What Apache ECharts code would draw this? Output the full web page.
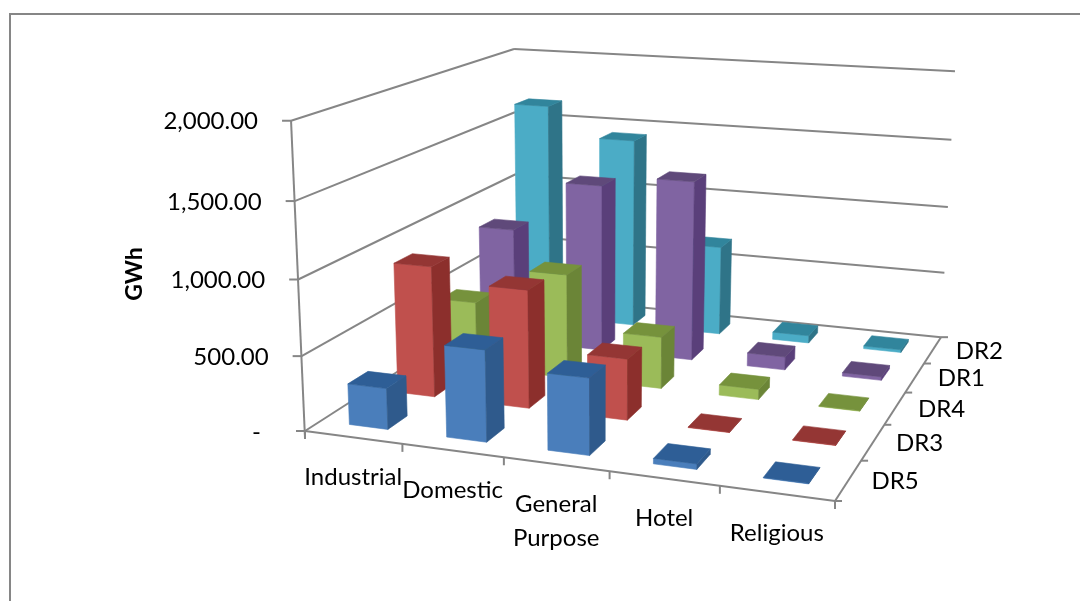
<!DOCTYPE html>
<html>
<head>
<meta charset="utf-8">
<style>html,body{margin:0;padding:0;background:#fff}#chart{width:1080px;height:601px}</style>
<script src="https://cdn.jsdelivr.net/npm/echarts@6/dist/echarts.min.js"></script>
</head>
<body>
<div id="chart"></div>
<script>
// GWh by customer category and DR scheme, front row first
const categories = ['Industrial', 'Domestic', 'General\nPurpose', 'Hotel', 'Religious'];
const rows = ['DR5', 'DR3', 'DR4', 'DR1', 'DR2'];
const valueTicks = [0, 500, 1000, 1500, 2000];
const valueLabels = ['-', '500.00', '1,000.00', '1,500.00', '2,000.00'];
const DR5 = [275, 605, 500, 35, 4];
const DR3 = [905, 810, 415, 3, 3];
const DR4 = [475, 740, 365, 72, 4];
const DR1 = [845, 1225, 1305, 95, 25];
const DR2 = [1650, 1430, 670, 55, 20];
const rowValues = [DR5, DR3, DR4, DR1, DR2];

// front, side and top shades per row
const shades = [
  ['#4A7EBB', '#2F5A8C', '#2E5E96'],
  ['#C0504D', '#8C2F2C', '#943634'],
  ['#9BBB59', '#6B8537', '#76923C'],
  ['#8064A2', '#5A3F7A', '#5F497A'],
  ['#4BACC6', '#2F7488', '#31859C']
];

const GRID = { left: 0, top: 0, width: 1000, height: 500 };
const LINE = '#868686';
const FONT = 'Lato';

// Perspective camera: floor corners with homogeneous weights, and the
// vanishing point of the vertical direction.
const floorA = [305, 431], floorB = [835, 501], floorD = [517, 295];
const wA = 1.11, wB = 1, wD = 1.415;
const vanish = [596, 6900], zScale = -0.0508;

function project(u, v, z) {
  const h = i => {
    const a = i < 2 ? floorA[i] : 1, b = i < 2 ? floorB[i] : 1, d = i < 2 ? floorD[i] : 1;
    const zc = i < 2 ? vanish[i] : 1;
    return wA * a + u * (wB * b - wA * a) + v * (wD * d - wA * a) + z * zScale * zc;
  };
  const w = h(2);
  return [h(0) / w, h(1) / w];
}

function poly(points, fill, stroke, width) {
  return {
    type: 'polygon',
    shape: { points },
    style: { fill, stroke: stroke || fill, lineWidth: width === undefined ? 0.6 : width }
  };
}
function line(p, q) {
  return {
    type: 'line',
    shape: { x1: p[0], y1: p[1], x2: q[0], y2: q[1] },
    style: { stroke: LINE, lineWidth: 2 }
  };
}
function label(text, x, y, align, extra) {
  return {
    type: 'text',
    x, y,
    style: Object.assign({
      text, x: 0, y: 0, align, verticalAlign: 'middle',
      fill: '#000', font: '24px ' + FONT
    }, extra || {})
  };
}

function drawBar(rowIdx) {
  return function (params, api) {
    const cat = api.value(0), val = api.value(1);
    const base = api.coord([cat, 0]);
    const top = api.coord([cat, val]);
    const full = api.coord([cat, 2000]);
    const u0 = (base[0] - GRID.left) / GRID.width;
    const z = (base[1] - top[1]) / (base[1] - full[1]);
    const du = 0.2 / categories.length, dv = 0.2 / rows.length;
    const v0 = (rowIdx + 0.5) / rows.length;
    const [f, s, t] = shades[rowIdx];
    const P = (a, b, c) => project(u0 + a * du, v0 + b * dv, c);
    return {
      type: 'group',
      children: [
        poly([P(-1, -1, 0), P(1, -1, 0), P(1, -1, z), P(-1, -1, z)], f),
        poly([P(1, -1, 0), P(1, 1, 0), P(1, 1, z), P(1, -1, z)], s),
        poly([P(-1, -1, z), P(1, -1, z), P(1, 1, z), P(-1, 1, z)], t)
      ]
    };
  };
}

function drawFrame() {
  const items = [];
  valueTicks.forEach((tick, i) => {
    const z = tick / 2000;
    const a = project(0, 0, z), d = project(0, 1, z), c = project(1, 1, z);
    items.push(line(a, d), line(d, c), line(a, [a[0] - 9, a[1]]));
    const off = tick === 0 ? 44 : 33;
    items.push(label(valueLabels[i], a[0] - off, a[1] + 1, 'right'));
  });
  const A = project(0, 0, 0), B = project(1, 0, 0), C = project(1, 1, 0);
  items.push(line(project(0, 0, 1), [A[0], A[1] + 7]));
  items.push(line(A, B), line(B, C));
  for (let i = 0; i <= categories.length; i++) {
    const p = project(i / categories.length, 0, 0);
    items.push(line(p, [p[0], p[1] + 8]));
  }
  for (let i = 0; i <= rows.length; i++) {
    const p = project(1, i / rows.length, 0);
    items.push(line(p, [p[0] + 7, p[1]]));
  }
  categories.forEach((name, i) => {
    const p = project((i + 0.5) / categories.length, 0, 0);
    items.push(label(name, p[0], p[1] + 23, 'center', { verticalAlign: 'top', lineHeight: 34 }));
  });
  rows.forEach((name, i) => {
    const p = project(1, (i + 0.5) / rows.length, 0);
    items.push(label(name, p[0] + 23, p[1] + 1, 'left'));
  });
  return { type: 'group', children: items };
}

const series = [{
  type: 'custom', name: 'frame', z: 1, silent: true,
  data: [[0, 0]], renderItem: drawFrame
}];
// painted back row first so nearer bars cover farther ones
for (let r = rows.length - 1; r >= 0; r--) {
  series.push({
    type: 'custom', name: rows[r], z: 2 + rows.length - r, silent: true,
    data: rowValues[r].map((v, i) => [i, v]),
    renderItem: drawBar(r)
  });
}

const chart = echarts.init(document.getElementById('chart'));
chart.setOption({
  animation: false,
  backgroundColor: '#fff',
  grid: GRID,
  xAxis: { type: 'category', data: categories, show: false },
  yAxis: { type: 'value', min: 0, max: 2000, interval: 500, show: false },
  graphic: [
    { type: 'rect', z: 0, shape: { x: 10, y: 14, width: 1200, height: 800 },
      style: { fill: 'none', stroke: LINE, lineWidth: 2 } },
    { type: 'text', x: 135, y: 274, rotation: Math.PI / 2, z: 5,
      style: { text: 'GWh', align: 'center', verticalAlign: 'middle', fill: '#000', font: 'bold 23px ' + FONT } }
  ],
  series
});
</script>
</body>
</html>
